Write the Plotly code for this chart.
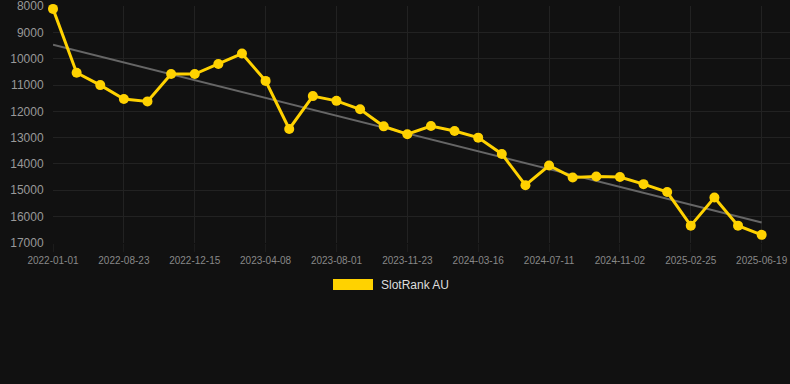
import plotly.graph_objects as go

dates = [
    "2022-01-01", "2022-06-08", "2022-07-16", "2022-08-23", "2022-09-30", "2022-11-07",
    "2022-12-15", "2023-01-22", "2023-03-01", "2023-04-08", "2023-05-16", "2023-06-23",
    "2023-08-01", "2023-09-08", "2023-10-16", "2023-11-23", "2023-12-31", "2024-02-07",
    "2024-03-16", "2024-04-23", "2024-06-03", "2024-07-11", "2024-08-18", "2024-09-25",
    "2024-11-02", "2024-12-10", "2025-01-17", "2025-02-25", "2025-04-04", "2025-05-12",
    "2025-06-19",
]
ranks = [
    8100, 10530, 11000, 11530, 11620, 10580,
    10580, 10200, 9800, 10840, 12670, 11420,
    11600, 11920, 12570, 12870, 12560, 12750,
    13000, 13620, 14810, 14060, 14520, 14480,
    14500, 14770, 15070, 16350, 15280, 16350,
    16700,
]
trend_dates = [dates[0], dates[-1]]
trend_values = [9460, 16230]
y_ticks = [8000, 9000, 10000, 11000, 12000, 13000, 14000, 15000, 16000, 17000]
x_tick_labels = dates[::3]
series_name = "SlotRank AU"

YELLOW = "#FFD200"

fig = go.Figure()
fig.add_trace(go.Scatter(
    x=trend_dates, y=trend_values, mode="lines",
    line=dict(color="#666666", width=2),
    hoverinfo="skip", showlegend=False,
))
fig.add_trace(go.Scatter(
    x=dates, y=ranks, mode="lines+markers", name=series_name,
    line=dict(color=YELLOW, width=3),
    marker=dict(color=YELLOW, size=10),
    showlegend=False, cliponaxis=False,
))

fig.update_layout(
    width=790, height=384,
    paper_bgcolor="#111111", plot_bgcolor="#111111",
    margin=dict(l=53, r=0, t=6, b=141),
    font=dict(family="Arial, Liberation Sans, sans-serif", color="#999999"),
    xaxis=dict(
        type="category",
        categoryorder="array", categoryarray=dates,
        range=[0, 31.2],
        tickmode="array", tickvals=x_tick_labels, ticktext=x_tick_labels,
        tickfont=dict(size=10, color="#888888"),
        showgrid=True, gridcolor="#222222", gridwidth=1,
        zeroline=False, showline=False,
        ticks="outside", ticklen=8, tickcolor="#1c1c1c",
        ticklabeloverflow="allow",
    ),
    yaxis=dict(
        range=[17010, 7990],
        tickmode="array", tickvals=y_ticks, ticktext=[str(v) for v in y_ticks],
        tickfont=dict(size=12, color="#999999"),
        showgrid=True, gridcolor="#222222", gridwidth=1,
        zeroline=False, showline=False,
        ticks="outside", ticklen=6, tickcolor="rgba(0,0,0,0)",
        ticklabeloverflow="allow",
    ),
    shapes=[dict(
        type="rect", xref="paper", yref="paper",
        x0=(333 - 53) / 737, x1=(373 - 53) / 737,
        y0=(243 - 290) / 237, y1=(243 - 279) / 237,
        fillcolor=YELLOW, line=dict(width=0),
    )],
    annotations=[dict(
        text=series_name, xref="paper", yref="paper",
        x=(379 - 53) / 737, y=(243 - 285) / 237,
        xanchor="left", yanchor="middle", showarrow=False,
        font=dict(size=12, color="#dddddd"),
    )],
)

fig.write_html(
    "out.html",
    config={"displayModeBar": False},
    post_script="document.body.style.margin='0';document.body.style.padding='0';"
                "document.body.style.background='#111111';",
)
